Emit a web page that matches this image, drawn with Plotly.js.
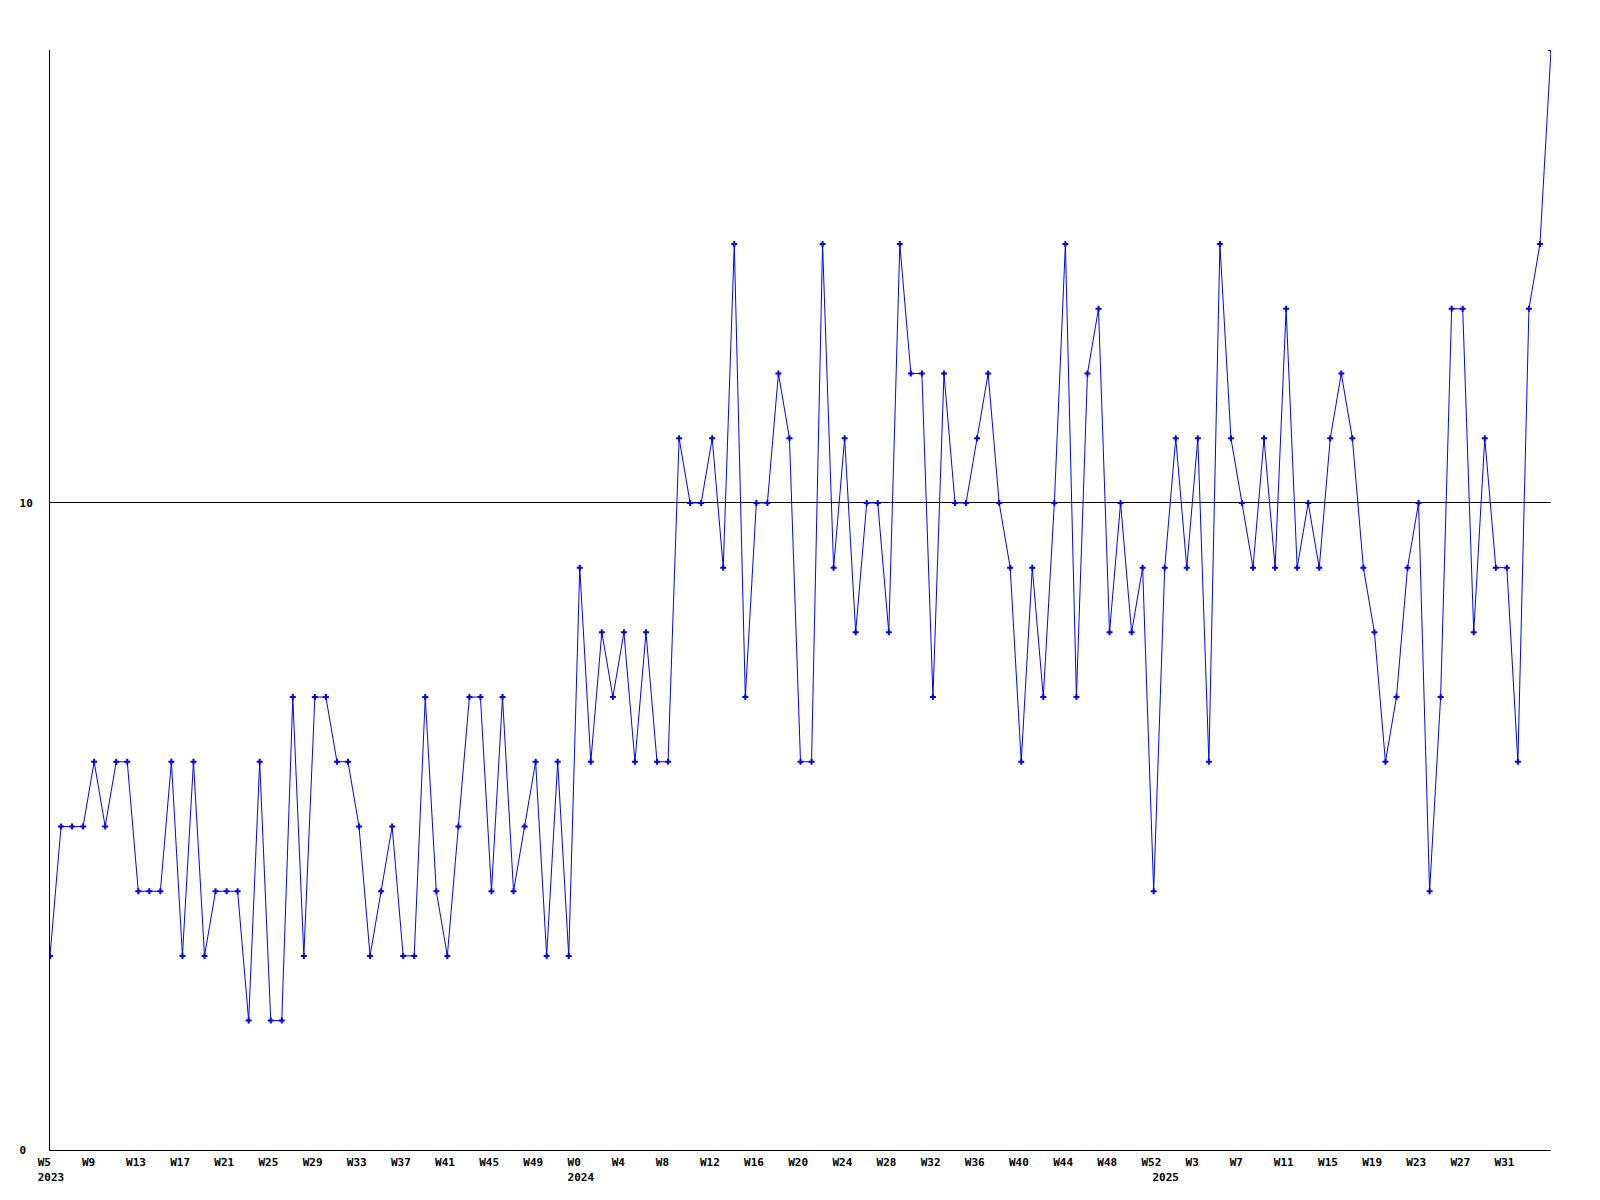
<!DOCTYPE html>
<html>
<head>
<meta charset="utf-8">
<script src="https://cdn.plot.ly/plotly-3.0.1.min.js"></script>
<style>
  html, body { margin: 0; padding: 0; background: #ffffff; }
  #chart { width: 1600px; height: 1200px; }
</style>
</head>
<body>
<div id="chart"></div>
<script>
// Weekly periods covered by the series (year, first week, last week)
const periodYears = [2023, 2024, 2025];
const periodFirstWeek = [5, 0, 0];
const periodLastWeek = [52, 52, 35];

// Weekly values
const values = [
  3, 5, 5, 5, 6, 5, 6, 6, 4, 4,
  4, 6, 3, 6, 3, 4, 4, 4, 2, 6,
  2, 2, 7, 3, 7, 7, 6, 6, 5, 3,
  4, 5, 3, 3, 7, 4, 3, 5, 7, 7,
  4, 7, 4, 5, 6, 3, 6, 3, 9, 6,
  8, 7, 8, 6, 8, 6, 6, 11, 10, 10,
  11, 9, 14, 7, 10, 10, 12, 11, 6, 6,
  14, 9, 11, 8, 10, 10, 8, 14, 12, 12,
  7, 12, 10, 10, 11, 12, 10, 9, 6, 9,
  7, 10, 14, 7, 12, 13, 8, 10, 8, 9,
  4, 9, 11, 9, 11, 6, 14, 11, 10, 9,
  11, 9, 13, 9, 10, 9, 11, 12, 11, 9,
  8, 6, 7, 9, 10, 4, 7, 13, 13, 8,
  11, 9, 9, 6, 13, 14, 17
];

// Y axis tick labels
const yTickValues = [0, 10];
const yTickLabels = ['0', '10'];

const LABEL_EVERY = 4;

// Build category list (one category per week)
const categories = [];
const weekOf = [];
const yearOf = [];
for (let p = 0; p < periodYears.length; p++) {
  for (let w = periodFirstWeek[p]; w <= periodLastWeek[p]; w++) {
    categories.push(periodYears[p] + '-W' + w);
    weekOf.push(w);
    yearOf.push(periodYears[p]);
  }
}

const NB = '\u00A0';
function pad(s, n) { while (s.length < n) s += NB; return s; }

// Week label every 4th point (not on the final point, where it would not fit),
// year label on the first point of each year
const tickvals = [];
const ticktext = [];
for (let i = 0; i < categories.length; i++) {
  const isWeekTick = (i % LABEL_EVERY === 0) && (i < categories.length - 1);
  const isYearStart = (i === 0 || yearOf[i] !== yearOf[i - 1]);
  if (!isWeekTick && !isYearStart) continue;
  const line1 = isWeekTick ? pad('W' + weekOf[i], 4) : pad('', 4);
  const line2 = isYearStart ? String(yearOf[i]) : pad('', 4);
  tickvals.push(categories[i]);
  ticktext.push(line1 + '<br>' + line2);
}

const yTickText = yTickLabels.map(t => pad(t, 2));

const labelFont = { family: 'DejaVu Sans Mono, monospace', size: 11, color: '#000000', weight: 'bold' };

const trace = {
  type: 'scatter',
  mode: 'lines+markers',
  x: categories,
  y: values,
  line: { color: '#0000ff', width: 1 },
  marker: { color: '#0000ff', symbol: 'cross', size: 5 },
  hoverinfo: 'skip'
};

const layout = {
  width: 1600,
  height: 1200,
  margin: { l: 50, r: 49, t: 50, b: 50, pad: 0 },
  paper_bgcolor: '#ffffff',
  plot_bgcolor: '#ffffff',
  showlegend: false,
  hovermode: false,
  xaxis: {
    type: 'category',
    range: [0, categories.length - 1],
    showline: true,
    linecolor: '#000000',
    linewidth: 1,
    showgrid: false,
    zeroline: false,
    ticks: '',
    tickmode: 'array',
    tickvals: tickvals,
    ticktext: ticktext,
    tickangle: 0,
    tickfont: labelFont,
    ticklabelshift: 1,
    ticklabelstandoff: 2
  },
  yaxis: {
    range: [0, 17],
    showline: true,
    linecolor: '#000000',
    linewidth: 1,
    showgrid: true,
    gridcolor: '#000000',
    gridwidth: 1,
    zeroline: false,
    ticks: '',
    tickmode: 'array',
    tickvals: yTickValues,
    ticktext: yTickText,
    tickfont: labelFont,
    ticklabelstandoff: 14
  }
};

Plotly.newPlot('chart', [trace], layout, { displayModeBar: false, staticPlot: true });
</script>
</body>
</html>
